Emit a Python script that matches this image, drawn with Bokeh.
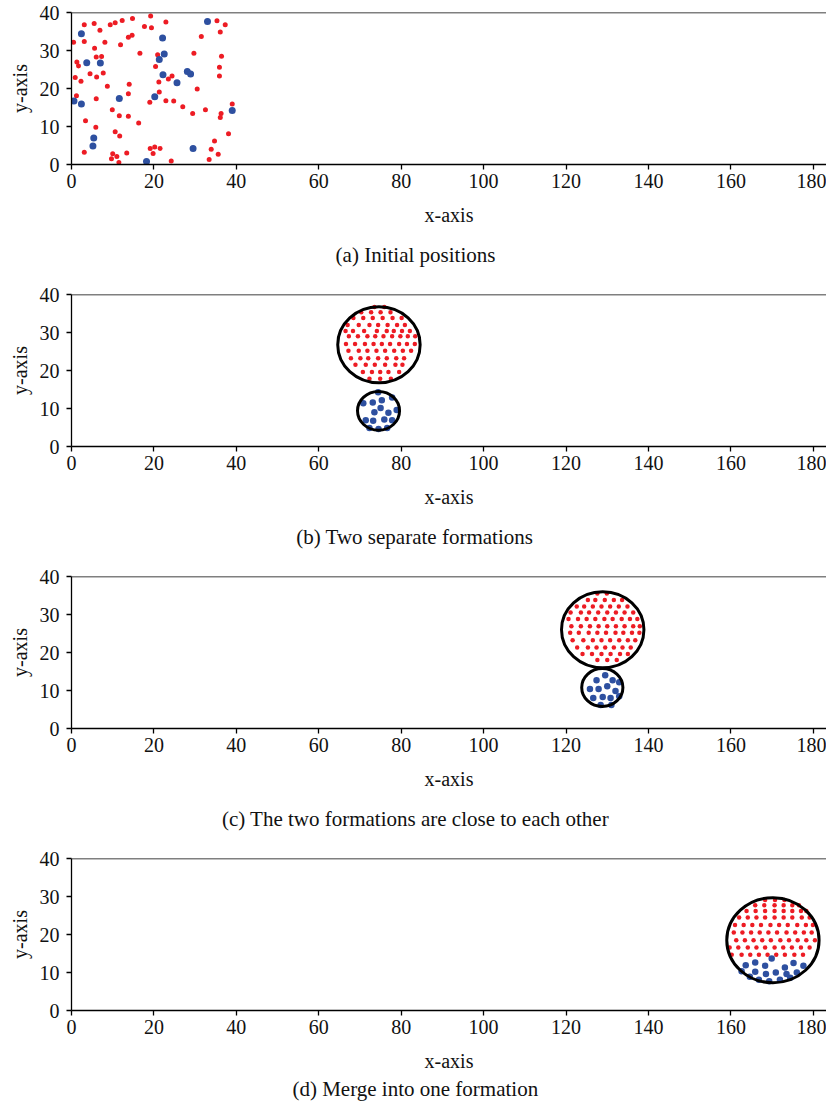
from bokeh.plotting import figure
from bokeh.layouts import column
from bokeh.models import Span, Title, FixedTicker
from bokeh.embed import file_html
from bokeh.resources import INLINE

FONT = "Liberation Serif"
RED = "#ed1c24"
BLUE = "#2e50a0"

X_MAX = 183.2
Y_MAX = 40
X_TICKS = [0, 20, 40, 60, 80, 100, 120, 140, 160, 180]
Y_TICKS = [0, 10, 20, 30, 40]
CAPTIONS = [
    "(a) Initial positions",
    "(b) Two separate formations",
    "(c) The two formations are close to each other",
    "(d) Merge into one formation",
]

# ---- panel (a): initial positions ----
a_red_x = [0.5, 3.1, 5.5, 6.9, 3.1, 5.6, 8.1, 1.3, 1.7, 6.0, 7.3, 0.9, 2.3, 4.5, 6.1, 7.7, 8.7, 1.2, 6.0,
           3.4, 5.9, 3.1, 9.9, 10.6, 11.7, 9.7, 10.0, 11.0, 11.5, 13.4, 9.4, 10.6, 12.3, 14.8, 13.8, 14.7,
           11.9, 13.8, 14.0, 13.8, 11.6, 16.3, 16.6, 17.7, 19.4, 19.2, 20.4, 20.9, 21.2, 24.4, 23.5, 22.9,
           21.3, 22.9, 24.8, 27.0, 19.0, 19.1, 20.2, 21.5, 19.8, 24.2, 29.4, 29.7, 30.5, 31.5, 32.5, 33.4,
           33.9, 34.7, 35.6, 35.3, 37.3, 36.1, 36.4, 35.9, 35.9, 36.3, 36.1, 38.1, 39.0]
a_red_y = [32.2, 36.8, 37.1, 35.3, 32.4, 30.6, 32.2, 27.0, 25.9, 28.3, 28.4, 22.9, 21.9, 23.9, 23.0, 24.1,
           20.6, 18.1, 17.3, 11.5, 9.8, 3.2, 14.4, 8.6, 7.5, 1.5, 2.8, 2.1, 0.5, 3.0, 36.8, 37.3, 37.9,
           38.4, 33.5, 34.0, 31.5, 18.6, 21.1, 12.7, 12.8, 10.9, 29.3, 36.3, 36.0, 39.1, 25.8, 28.9, 21.7,
           23.3, 22.5, 37.5, 19.1, 16.8, 16.7, 15.2, 16.4, 4.2, 4.6, 4.2, 2.9, 0.9, 13.4, 29.3, 19.9, 33.7,
           14.4, 1.3, 4.0, 6.2, 2.7, 37.8, 36.8, 34.9, 28.5, 25.6, 23.3, 13.4, 12.4, 8.1, 15.9]
a_blue_x = [2.4, 3.7, 7.0, 0.6, 2.4, 11.6, 5.4, 5.2, 18.2, 20.2, 21.3, 22.1, 22.5, 22.2, 25.6, 28.1, 28.9,
            29.5, 33.0, 39.0]
a_blue_y = [34.4, 26.8, 26.7, 16.7, 15.9, 17.4, 7.0, 4.9, 0.8, 17.8, 27.6, 33.3, 29.1, 23.6, 21.5, 24.5,
            23.8, 4.2, 37.6, 14.2]

# ---- panel (b): two separate formations (rows: y, list of x) ----
b_red_rows = [
    (36.7, [73.5, 75.9]),
    (35.3, [70.3, 72.7, 75.0, 77.4]),
    (33.8, [68.4, 70.8, 73.1, 75.5, 77.9, 80.1]),
    (32.0, [67.0, 69.7, 72.3, 74.4, 76.7, 79.0, 80.9]),
    (30.4, [66.5, 68.3, 71.0, 74.1, 76.5, 78.2, 80.2, 82.1]),
    (29.0, [67.3, 69.5, 71.8, 73.7, 75.7, 77.8, 79.8, 81.6, 83.4]),
    (27.0, [66.6, 68.8, 71.2, 73.3, 75.3, 77.3, 79.5, 81.4, 83.3]),
    (25.2, [67.2, 69.7, 71.8, 74.0, 76.1, 78.3, 80.4, 82.4]),
    (23.2, [67.8, 70.1, 72.0, 74.4, 76.5, 78.8, 80.7]),
    (21.5, [68.9, 71.4, 73.6, 76.1, 78.6, 80.3]),
    (19.6, [70.7, 72.9, 74.9, 76.9, 79.5]),
    (17.8, [72.3, 74.9, 77.5]),
]
b_blue_x = [74.4, 73.1, 75.3, 77.8, 70.8, 73.5, 75.0, 76.9, 78.9, 71.4, 73.2, 75.9, 77.8, 72.3, 74.5, 76.6]
b_blue_y = [14.3, 11.6, 12.2, 12.9, 11.4, 9.0, 10.1, 8.9, 9.6, 6.9, 6.8, 7.1, 6.9, 4.9, 4.6, 4.9]
b_circ_x = [74.6, 74.5]
b_circ_y = [26.8, 9.4]
b_circ_r = [10.0, 5.1]

# ---- panel (c): formations close to each other ----
c_red_rows = [
    (35.5, [127.6, 129.9]),
    (33.8, [125.3, 127.1, 129.4, 131.6, 133.6]),
    (32.1, [122.6, 124.4, 126.5, 128.6, 130.7, 132.8, 134.9]),
    (30.5, [121.1, 123.6, 125.6, 127.8, 130.0, 132.1, 134.2, 136.3]),
    (28.8, [120.6, 122.9, 125.0, 127.1, 129.3, 131.3, 133.5, 135.5, 137.3]),
    (26.9, [121.3, 123.6, 125.8, 127.9, 130.0, 132.1, 134.2, 136.3, 137.9]),
    (25.2, [121.0, 123.1, 125.5, 127.6, 129.7, 132.0, 133.9, 136.0, 137.8]),
    (23.2, [121.6, 124.2, 126.5, 128.6, 130.7, 132.9, 135.0, 136.8]),
    (21.3, [122.7, 125.3, 127.4, 129.5, 131.6, 133.7, 135.7]),
    (19.6, [124.0, 126.3, 128.6, 130.8, 133.1, 135.0]),
    (18.0, [127.6, 130.0, 132.3]),
]
c_blue_x = [129.5, 127.4, 131.3, 125.8, 127.9, 130.0, 132.0, 126.6, 128.9, 130.8, 132.9, 128.4, 131.0, 132.9]
c_blue_y = [14.0, 12.7, 12.7, 10.4, 10.4, 11.1, 9.9, 8.0, 8.3, 8.0, 8.5, 6.2, 6.2, 12.2]
c_circ_x = [128.9, 128.8]
c_circ_y = [26.0, 10.8]
c_circ_r = [10.0, 5.0]

# ---- panel (d): merged formation ----
d_red_rows = [
    (29.1, [168.3, 170.7, 173.0]),
    (27.7, [165.9, 168.1, 170.6, 172.8, 174.9, 176.5]),
    (26.2, [163.8, 166.0, 168.3, 170.6, 172.8, 174.9, 177.0, 178.3]),
    (24.5, [162.0, 164.1, 166.2, 168.3, 170.6, 172.8, 174.9, 177.2, 179.1]),
    (22.5, [161.0, 163.1, 165.2, 167.3, 169.6, 171.7, 173.8, 176.1, 178.2, 179.9]),
    (20.5, [160.7, 162.8, 164.9, 167.0, 169.1, 171.2, 173.5, 175.6, 177.7, 179.6]),
    (18.5, [161.3, 163.4, 165.5, 167.6, 169.7, 172.0, 174.1, 176.2, 178.3, 180.4]),
    (16.6, [159.7, 161.8, 164.1, 166.2, 168.3, 170.6, 172.7, 174.8, 177.0, 179.1]),
    (14.7, [160.2, 162.6, 164.7, 166.8, 168.9, 171.0, 173.1, 175.4, 177.5]),
]
d_blue_x = [169.9, 165.9, 163.6, 168.3, 175.2, 177.6, 173.1, 162.6, 165.9, 168.5, 170.9, 173.5, 176.0,
            164.6, 166.8, 169.3, 171.9, 174.4]
d_blue_y = [13.7, 12.6, 11.9, 11.8, 12.5, 11.8, 11.3, 10.3, 10.2, 9.6, 10.0, 9.6, 10.0,
            8.9, 8.1, 7.7, 8.1, 8.6]
d_circ_x = [170.2]
d_circ_y = [18.5]
d_circ_r = [11.2]

# approximate Times/Liberation Serif advance widths (per 1000 em) used to centre captions on the page
_W = {' ': 250, '(': 333, ')': 333, 'a': 444, 'b': 500, 'c': 444, 'd': 500, 'e': 444, 'f': 333,
      'g': 500, 'h': 500, 'i': 278, 'l': 278, 'm': 778, 'n': 500, 'o': 500, 'p': 500, 'r': 333,
      's': 389, 't': 278, 'w': 722, 'x': 500, 'y': 500, 'I': 333, 'M': 889, 'T': 611}

FIG_W = 826
LEFT = 71
TOP = 12
CAP_PX = 21
PAGE_ORIGIN = 2  # observed page offset of the layout


def text_width(s, size):
    return sum(_W.get(ch, 500) for ch in s) * size / 1000.0


def flatten(rows):
    xs, ys = [], []
    for y, row in rows:
        xs += row
        ys += [y] * len(row)
    return xs, ys


def make_panel(caption, height, bottom, cap_standoff, red_x, red_y, blue_x, blue_y,
               red_size, blue_size, circ_x=None, circ_y=None, circ_r=None):
    p = figure(width=FIG_W, height=height, x_range=(0, X_MAX), y_range=(0, Y_MAX),
               output_backend="svg", toolbar_location=None,
               min_border_left=LEFT, min_border_right=0, min_border_top=TOP,
               min_border_bottom=bottom,
               background_fill_color="white", border_fill_color="white",
               outline_line_color=None)
    p.grid.visible = False
    for ax in (p.xaxis[0], p.yaxis[0]):
        ax.axis_line_color = "black"
        ax.axis_line_width = 1.3
        ax.major_tick_line_color = "black"
        ax.major_tick_line_width = 1.3
        ax.major_tick_out = 5
        ax.major_tick_in = 0
        ax.minor_tick_line_color = None
        ax.major_label_text_font = FONT
        ax.major_label_text_font_size = "20px"
        ax.major_label_text_color = "#111111"
        ax.axis_label_text_font = FONT
        ax.axis_label_text_font_size = "20px"
        ax.axis_label_text_font_style = "normal"
        ax.axis_label_text_color = "#111111"
    p.xaxis.ticker = FixedTicker(ticks=X_TICKS)
    p.yaxis.ticker = FixedTicker(ticks=Y_TICKS)
    p.xaxis.axis_label = "x-axis"
    p.yaxis.axis_label = "y-axis"
    p.xaxis.major_label_standoff = 4
    p.yaxis.major_label_standoff = 7
    p.xaxis.axis_label_standoff = 13
    p.yaxis.axis_label_standoff = 6

    p.add_layout(Span(location=Y_MAX, dimension="width", line_color="black", line_width=1.3))

    p.scatter(red_x, red_y, size=red_size, color=RED, line_color=None)
    p.scatter(blue_x, blue_y, size=blue_size, color=BLUE, line_color=None)
    if circ_x:
        p.ellipse(circ_x, circ_y, width=[2 * r for r in circ_r], height=[2 * r for r in circ_r],
                  fill_color=None, line_color="black", line_width=3)

    # caption centred on the page
    centre_from_frame = 834 / 2 - PAGE_ORIGIN - LEFT
    off = centre_from_frame - text_width(caption, CAP_PX) / 2
    p.add_layout(Title(text=caption, align="left", offset=off, vertical_align="top",
                       standoff=cap_standoff, text_font=FONT, text_font_size=f"{CAP_PX}px",
                       text_font_style="normal", text_color="#111111"), "below")
    return p


b_red_x, b_red_y = flatten(b_red_rows)
c_red_x, c_red_y = flatten(c_red_rows)
d_red_x, d_red_y = flatten(d_red_rows)

pa = make_panel(CAPTIONS[0], 282, 118, 28, a_red_x, a_red_y, a_blue_x, a_blue_y, 5, 7)
pb = make_panel(CAPTIONS[1], 282, 118, 28, b_red_x, b_red_y, b_blue_x, b_blue_y, 4.5, 6.5,
                b_circ_x, b_circ_y, b_circ_r)
pc = make_panel(CAPTIONS[2], 282, 118, 28, c_red_x, c_red_y, c_blue_x, c_blue_y, 4.5, 6.5,
                c_circ_x, c_circ_y, c_circ_r)
pd = make_panel(CAPTIONS[3], 258, 94, 4, d_red_x, d_red_y, d_blue_x, d_blue_y, 4.5, 6.5,
                d_circ_x, d_circ_y, d_circ_r)

layout = column(pa, pb, pc, pd, spacing=0)
open("out.html", "w").write(file_html(layout, INLINE))
